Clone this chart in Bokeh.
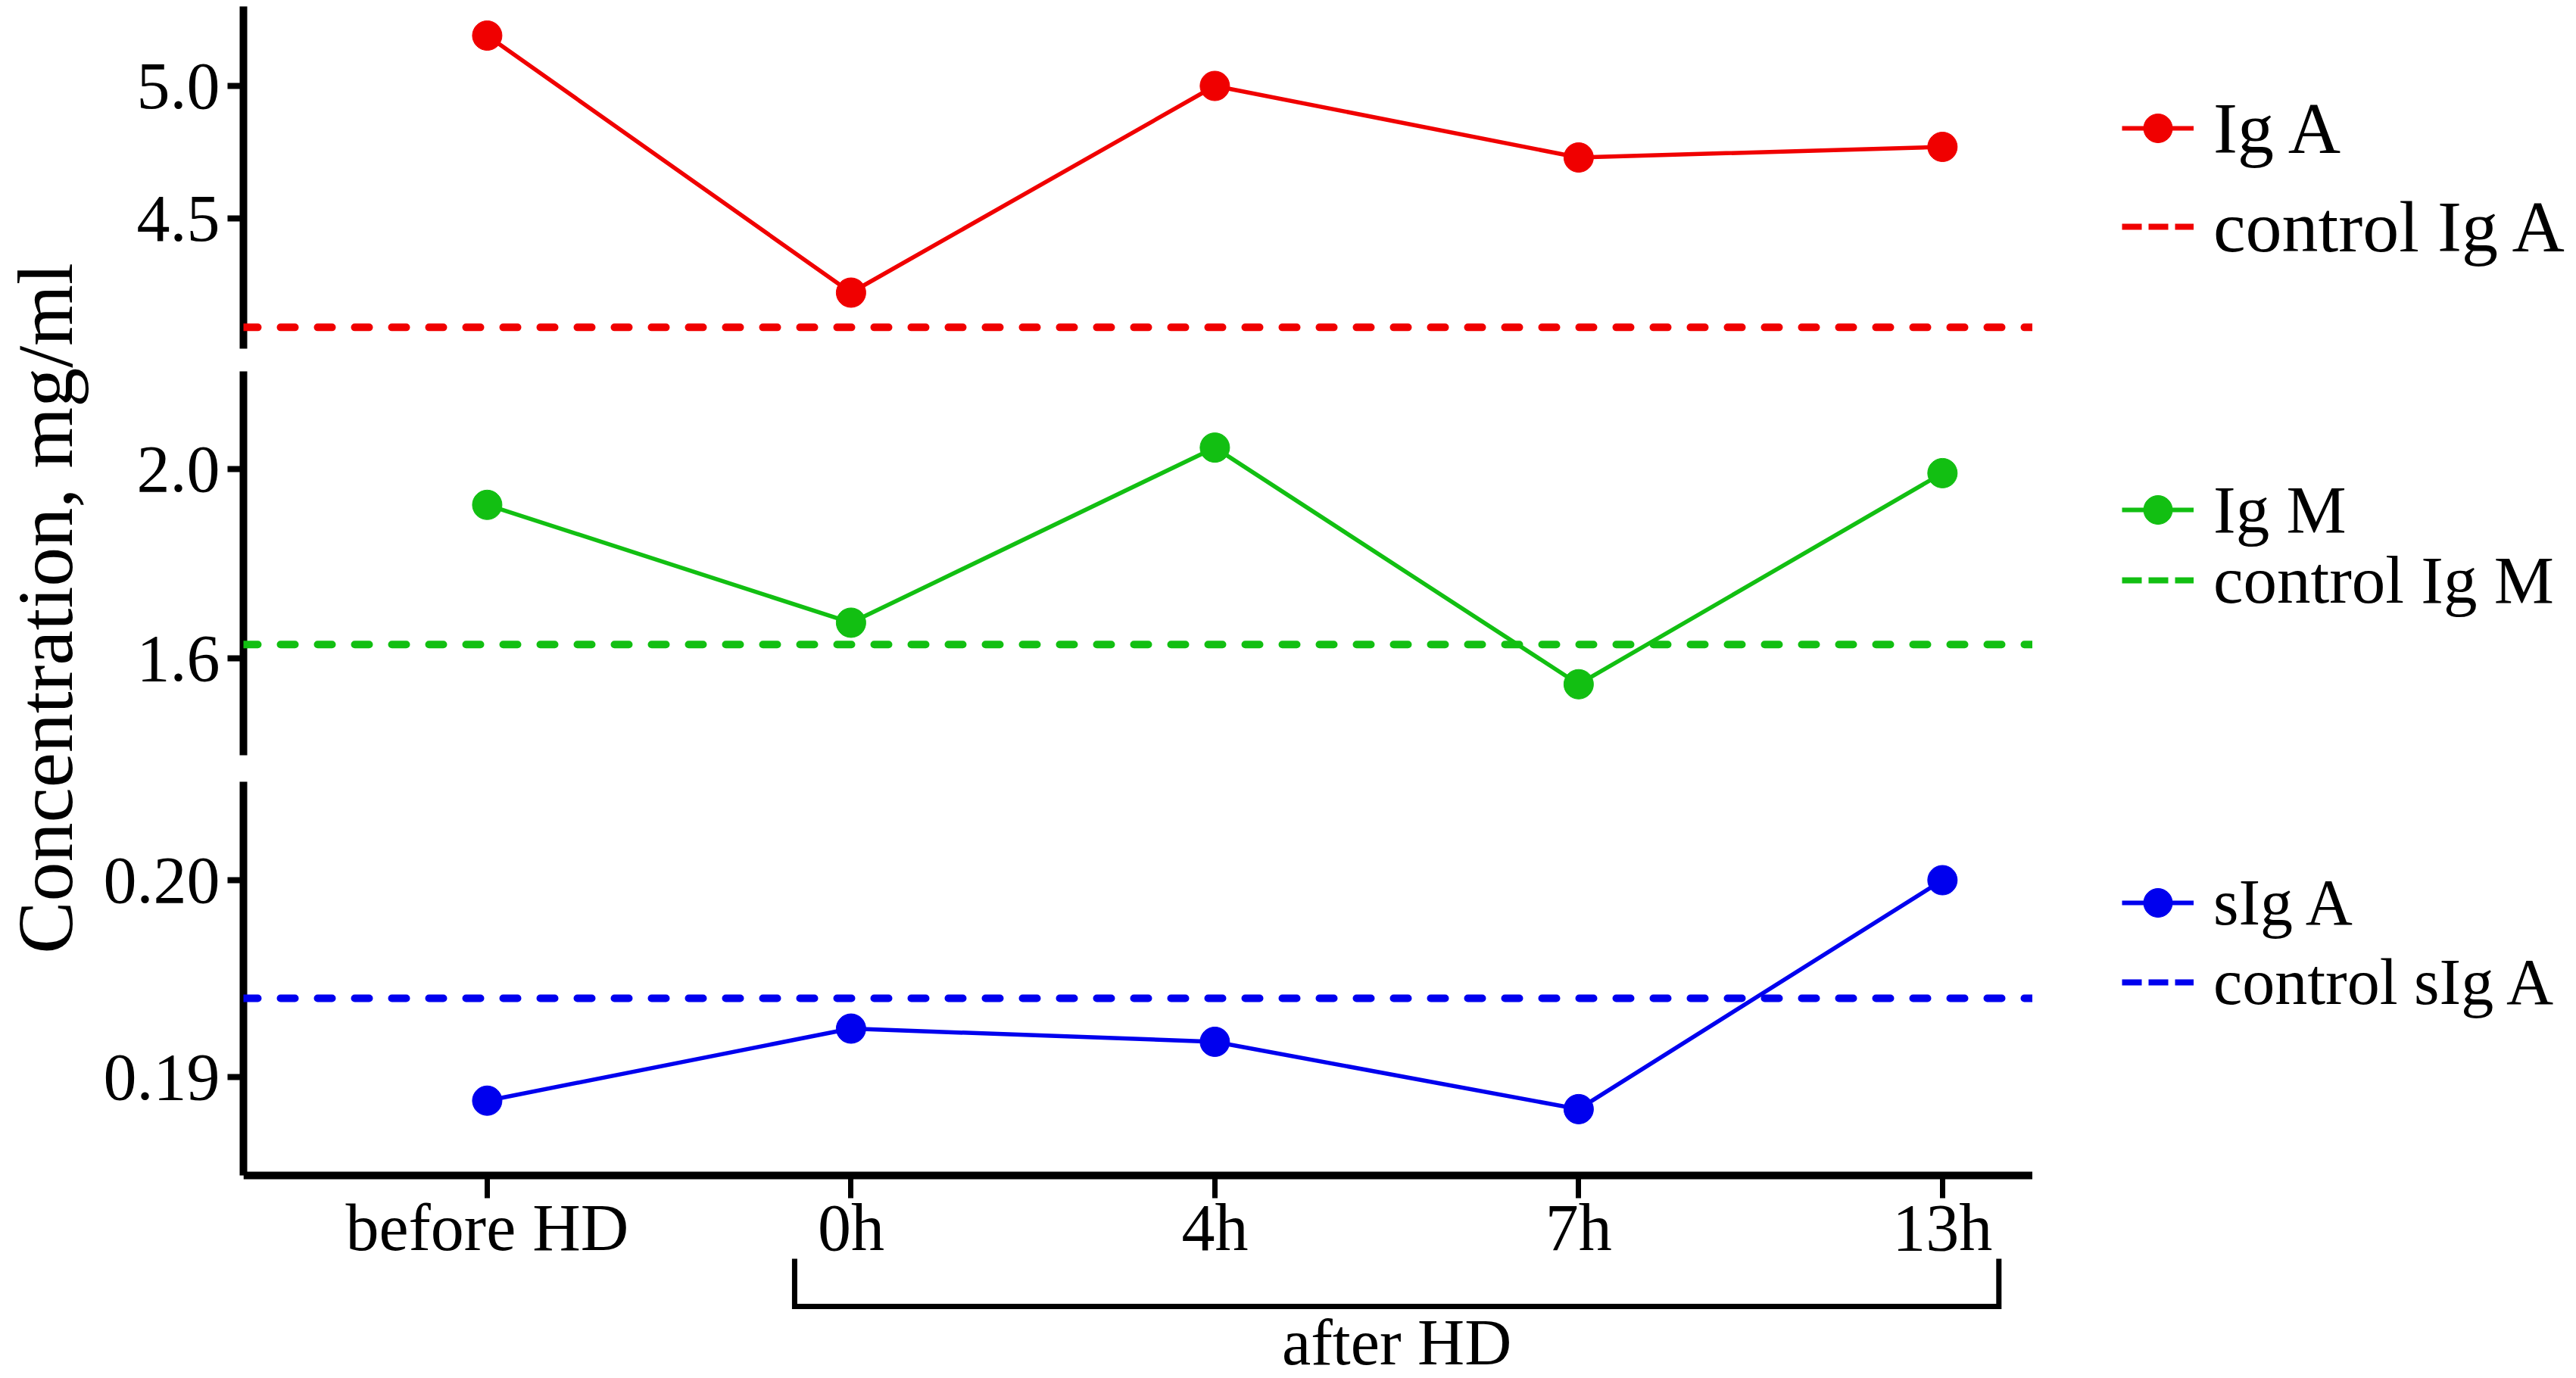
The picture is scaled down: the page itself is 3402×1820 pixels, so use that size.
import math
from bokeh.plotting import figure
from bokeh.layouts import row, column
from bokeh.models import (Range1d, FixedTicker, PrintfTickFormatter, Span, Legend,
                          LegendItem, LinearAxis)
from bokeh.core.properties import value
from bokeh.embed import file_html
from bokeh.resources import INLINE

# ---------------- data ----------------
categories = ["before HD", "0h", "4h", "7h", "13h"]
x_idx = [0, 1, 2, 3, 4]
iga = [5.19, 4.22, 5.00, 4.73, 4.77]
igm = [1.925, 1.676, 2.046, 1.546, 1.992]
siga = [0.1888, 0.19246, 0.19179, 0.18837, 0.2000]
control_iga = 4.089
control_igm = 1.630
control_siga = 0.194
iga_ticks = [4.5, 5.0]
igm_ticks = [1.6, 2.0]
siga_ticks = [0.19, 0.20]
group_first, group_last = 1, 4          # "after HD" covers 0h .. 13h
y_title = "Concentration, mg/ml"
group_label = "after HD"
labels = ["Ig A", "control Ig A", "Ig M", "control Ig M", "sIg A", "control sIg A"]

RED, GREEN, BLUE = "#F00000", "#12BF12", "#0000EE"
FONT = "Liberation Serif"

# ---------------- layout ----------------
TITLE_W = 128
PANEL_W = 2556
LEG_W = 718
TOTAL_H = 1820
LEFT_B = 193
H1, H2 = 475, 539
H3 = TOTAL_H - H1 - H2
TOP3 = 18

x_range = Range1d(-0.67, 4.248)


def style_axis(ax, tick_out, tick_w):
    ax.axis_line_width = 10
    ax.axis_line_color = "black"
    ax.major_tick_line_width = tick_w
    ax.major_tick_line_color = "black"
    ax.major_tick_out = tick_out
    ax.major_tick_in = 0
    ax.minor_tick_line_color = None
    ax.major_label_text_font = FONT
    ax.major_label_text_font_size = "88px"
    ax.major_label_text_color = "black"
    ax.major_label_standoff = 10


def make_panel(height, top, bottom, yr, ticks, fmt):
    p = figure(width=PANEL_W, height=height, x_range=x_range, y_range=yr,
               x_axis_location=None, toolbar_location=None, tools="",
               output_backend="svg", min_border_left=LEFT_B, min_border_right=0,
               min_border_top=top, min_border_bottom=bottom)
    p.outline_line_color = None
    p.grid.visible = False
    ax = p.yaxis[0]
    ax.ticker = FixedTicker(ticks=ticks)
    ax.formatter = PrintfTickFormatter(format=fmt)
    style_axis(ax, 21, 8)
    return p


def add_series(p, ys, ctrl, color):
    dash = Span(location=ctrl, dimension="width", line_color=color,
                line_width=10, line_dash="19 30", line_cap="round")
    p.add_layout(dash)
    p.line(x_idx, ys, line_color=color, line_width=5.5)
    p.scatter(x_idx, ys, size=39, fill_color=color, line_color=color)


p1 = make_panel(H1, 8, 15, Range1d(4.0086, 5.3), iga_ticks, "%.1f")
add_series(p1, iga, control_iga, RED)

p2 = make_panel(H2, 15, 17, Range1d(1.396, 2.207), igm_ticks, "%.1f")
add_series(p2, igm, control_igm, GREEN)

# bottom panel: frame runs to the page bottom, x axis sits at 0.185
fh = H3 - TOP3
p3 = make_panel(H3, TOP3, 0, Range1d(0.185 - (fh - 520) / 26000, 0.205), siga_ticks, "%.2f")
p3.yaxis[0].bounds = (0.185, 0.205)
add_series(p3, siga, control_siga, BLUE)
xax = LinearAxis(fixed_location=0.185, ticker=FixedTicker(ticks=x_idx),
                 major_label_overrides={i: c for i, c in zip(x_idx, categories)})
style_axis(xax, 30, 7)
xax.major_label_standoff = -10
p3.add_layout(xax, "below")

# bracket + group label, in pixel units measured from the frame top
p3.extra_y_ranges = {"px": Range1d(fh, 0)}
pad = 0.155
bx0, bx1 = group_first - pad, group_last + pad
p3.line([bx0, bx0, bx1, bx1], [630, 693, 693, 630], y_range_name="px",
        line_color="black", line_width=7, line_join="miter")
p3.text(x=[(bx0 + bx1) / 2], y=[740], text=[group_label], y_range_name="px",
        text_font=value(FONT), text_font_size="86px", text_align="center",
        text_baseline="middle", text_color="black")

# ---------------- y title ----------------
tf = figure(width=TITLE_W, height=TOTAL_H, x_range=Range1d(0, TITLE_W),
            y_range=Range1d(TOTAL_H, 0), x_axis_location=None, y_axis_location=None,
            toolbar_location=None, tools="", output_backend="svg", min_border=0)
tf.outline_line_color = None
tf.grid.visible = False
tf.text(x=[59], y=[803], text=[y_title], angle=math.pi / 2,
        text_font=value(FONT), text_font_size="104px", text_align="center",
        text_baseline="middle", text_color="black")

# ---------------- legends ----------------
# legend-only renderers carry the real series, but this plot's ranges keep them out of view
lf = figure(width=LEG_W, height=TOTAL_H, x_range=Range1d(-3, -2), y_range=Range1d(-3, -2),
            x_axis_location=None, y_axis_location=None, toolbar_location=None,
            tools="", output_backend="svg", min_border=0)
lf.outline_line_color = None
lf.grid.visible = False

leg_specs = [
    (labels[0], iga, None, RED, 1586, "96px"),
    (labels[1], None, control_iga, RED, 1456, "96px"),
    (labels[2], igm, None, GREEN, 1082, "89px"),
    (labels[3], None, control_igm, GREEN, 989, "89px"),
    (labels[4], siga, None, BLUE, 563, "86px"),
    (labels[5], None, control_siga, BLUE, 458, "86px"),
]
for lab, ys, ctrl, col, yoff, fs in leg_specs:
    if ys is None:
        rs = [lf.line(x_idx, [ctrl] * len(x_idx), line_color=col, line_width=8,
                      line_dash="26 9")]
    else:
        rs = [lf.line(x_idx, ys, line_color=col, line_width=6),
              lf.scatter(x_idx, ys, size=38, fill_color=col, line_color=col)]
    lg = Legend(items=[LegendItem(label=lab, renderers=rs)], location=(118, yoff),
                glyph_width=95, glyph_height=130, label_standoff=26, padding=0,
                margin=0, spacing=0, border_line_color=None, background_fill_alpha=0,
                label_text_font=FONT, label_text_font_size=fs, label_text_color="black")
    lf.add_layout(lg)

layout = row(tf, column(p1, p2, p3), lf)
open("out.html", "w").write(file_html(layout, INLINE))
